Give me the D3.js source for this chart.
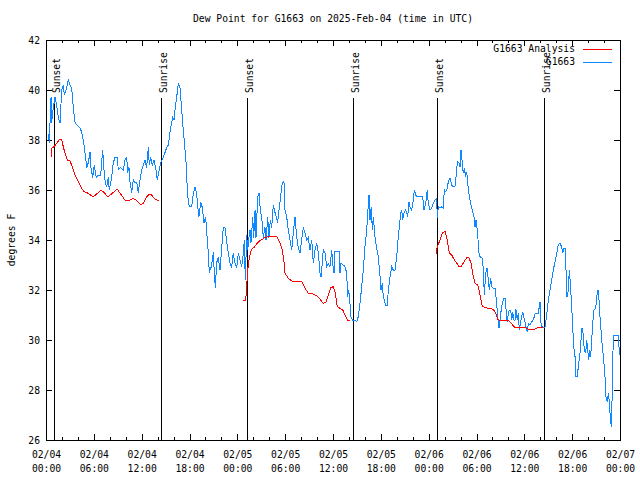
<!DOCTYPE html>
<html>
<head>
<meta charset="utf-8">
<script src="https://cdn.jsdelivr.net/npm/d3@7"></script>
<style>
  html, body { margin: 0; padding: 0; background: #fff; }
  svg { display: block; }
  text { font-family: "DejaVu Sans Mono", "Liberation Mono", monospace; font-size: 9.7px; fill: #000; }
</style>
</head>
<body>
<svg id="chart" width="640" height="480"></svg>
<script>
// ---- DATA ----
const titleText = "Dew Point for G1663 on 2025-Feb-04 (time in UTC)";
const yLabelText = "degrees F";
const seriesNames = ["G1663 Analysis", "G1663"];
const yTicks = [26, 28, 30, 32, 34, 36, 38, 40, 42];
// hours since 2025-02-04 00:00 UTC
const obsHours = [0.29,0.41,0.63,0.71,0.92,1.13,1.34,1.54,1.76,1.97,2.17,2.30,2.60,2.80,3.01,3.22,3.42,3.64,3.85,4.26,4.48,4.68,4.89,5.11,5.31,5.52,5.64,5.86,6.06,6.23,6.36,6.56,6.86,7.11,7.28,7.44,7.61,7.81,7.94,8.24,8.44,8.66,8.94,9.07,9.37,9.70,9.91,10.12,10.25,10.41,10.54,10.75,10.95,11.16,11.38,11.58,11.79,12.00,12.20,12.42,12.63,12.83,12.96,13.13,13.33,13.55,13.80,13.96,14.14,14.39,14.71,14.93,15.14,15.34,15.47,15.64,15.89,16.06,16.22,16.39,16.60,16.81,17.02,17.22,17.44,17.65,17.72,17.98,18.28,18.48,18.69,18.90,19.03,19.19,19.40,19.61,19.82,20.03,20.16,20.36,20.48,20.70,20.86,20.99,21.11,21.24,21.41,21.61,21.83,22.04,22.24,22.45,22.67,22.87,23.08,23.29,23.49,23.71,23.92,24.12,24.33,24.55,24.75,24.87,25.00,25.17,25.30,25.46,25.59,25.71,25.93,26.05,26.22,26.34,26.55,26.72,26.88,27.06,27.26,27.47,27.60,27.81,27.97,28.14,28.31,28.51,28.64,28.81,29.06,29.26,29.48,29.64,29.85,29.98,30.19,30.39,30.61,30.82,31.02,31.23,31.45,31.65,31.86,32.07,32.28,32.49,32.70,32.90,33.12,33.33,33.53,33.74,33.96,34.16,34.37,34.50,34.66,34.78,35.00,35.21,35.41,35.62,35.84,35.96,36.13,36.25,36.54,36.79,36.88,37.00,37.29,37.51,37.72,37.84,37.97,38.13,38.26,38.47,38.76,38.97,39.17,39.39,39.60,39.80,40.01,40.23,40.35,40.52,40.64,40.80,40.93,41.06,41.27,41.48,41.68,41.90,42.02,42.18,42.31,42.43,42.61,42.81,42.94,43.15,43.36,43.56,43.78,43.99,44.12,44.28,44.49,44.62,44.74,44.91,45.12,45.25,45.37,45.53,45.66,45.87,46.07,46.20,46.37,46.57,46.91,47.25,47.42,47.63,47.83,47.95,48.17,48.38,48.58,48.80,49.01,49.08,49.21,49.42,49.64,49.84,49.96,50.14,50.34,50.46,50.68,50.89,51.09,51.30,51.43,51.52,51.64,51.81,51.93,52.06,52.18,52.34,52.47,52.65,52.77,52.90,53.10,53.27,53.47,53.69,53.81,53.94,54.10,54.32,54.44,54.73,54.86,54.98,55.16,55.32,55.48,55.61,55.78,55.91,56.11,56.32,56.53,56.66,56.82,56.95,57.07,57.24,57.45,57.61,57.74,57.86,57.99,58.11,58.29,58.42,58.54,58.71,58.83,58.95,59.12,59.24,59.37,59.54,59.67,59.79,59.92,60.08,60.21,60.37,60.50,60.71,60.92,61.12,61.34,61.55,61.75,61.97,62.09,62.22,62.38,62.59,62.72,62.88,63.01,63.22,63.43,63.63,63.85,64.06,64.26,64.47,64.68,64.81,64.98,65.10,65.23,65.35,65.52,65.64,65.77,65.94,66.07,66.19,66.36,66.48,66.64,66.77,66.98,67.11,67.23,67.40,67.52,67.70,67.82,67.95,68.07,68.20,68.32,68.45,68.58,68.74,68.95,69.12,69.24,69.37,69.49,69.62,69.78,69.96,70.12,70.24,70.41,70.53,70.66,70.78,70.91,71.00,71.09,71.21,71.59,71.79,71.87,72.00];
const obsValues = [38.23,37.9,39.7,38.7,39.3,39.7,39.4,38.9,38.7,40.0,40.2,39.8,40.1,40.4,40.2,40.07,39.3,38.7,38.6,38.5,38.3,38.0,37.5,36.9,37.1,37.5,36.9,36.5,37.0,36.6,36.5,36.6,36.6,37.6,36.8,36.3,36.13,36.5,36.0,36.5,37.1,37.3,37.3,36.8,36.9,36.8,37.2,37.3,36.7,36.9,36.3,35.9,36.4,36.3,36.3,35.9,36.4,36.8,37.0,37.2,36.9,37.7,37.0,37.3,37.0,37.2,36.8,36.4,36.7,37.1,37.3,37.5,37.7,37.8,38.1,38.5,38.9,38.8,39.3,39.7,40.27,40.07,39.2,38.4,37.6,36.8,35.87,35.33,35.35,35.87,36.1,35.87,35.33,34.93,35.5,35.3,34.7,34.9,34.3,33.5,32.7,32.9,33.2,33.5,32.7,32.07,33.1,33.3,32.8,33.7,34.5,34.5,33.9,33.5,33.07,32.9,33.47,33.07,32.9,33.47,33.2,32.93,33.47,34.0,32.4,34.2,33.6,34.1,34.4,33.87,34.9,34.1,35.2,34.1,35.7,35.87,35.2,34.9,34.1,34.5,34.0,34.9,34.1,34.8,34.5,35.4,35.2,35.0,34.7,35.27,35.87,36.27,36.33,35.2,34.93,34.4,34.0,33.6,34.27,34.93,34.1,33.67,33.47,34.0,34.5,34.27,34.0,34.1,33.6,34.0,33.07,33.6,33.87,33.47,32.67,32.53,33.07,33.6,33.47,32.93,33.07,32.93,33.6,33.07,32.67,33.53,33.53,33.53,32.67,33.07,33.0,32.93,32.67,31.73,32.0,31.47,30.93,30.8,30.8,30.73,30.93,31.47,32.13,32.8,33.73,34.4,35.07,35.8,34.8,35.33,34.4,34.93,34.13,33.67,33.33,32.53,32.0,32.27,31.73,31.6,31.4,31.4,32.0,32.53,32.93,32.8,32.8,33.33,33.87,34.4,35.07,35.2,34.8,35.07,35.2,35.07,34.93,35.53,35.33,35.2,35.6,36.0,35.8,35.73,35.73,35.73,35.2,35.47,36.0,35.47,35.2,35.27,35.47,35.6,35.67,34.87,35.33,35.27,35.33,35.27,36.0,35.93,36.07,36.33,36.47,36.2,36.13,36.13,36.53,36.87,37.13,37.07,36.93,37.6,37.2,36.67,36.87,36.53,36.73,36.27,35.73,35.47,35.2,34.93,34.53,34.8,34.4,33.47,33.33,33.27,32.8,31.8,32.67,32.87,32.4,32.0,32.47,32.13,32.07,32.07,31.47,30.93,30.47,30.8,31.13,31.47,31.67,31.67,31.07,30.73,31.07,31.2,31.2,30.8,31.13,30.8,30.8,31.23,30.8,31.07,30.4,30.73,30.93,31.13,30.93,30.73,30.53,30.33,30.67,30.6,30.73,30.8,31.04,31.07,31.07,31.53,30.67,30.53,30.5,30.5,30.8,31.2,31.6,32.0,32.4,32.8,33.13,33.47,33.8,33.87,33.73,33.47,33.67,33.67,32.8,31.73,32.0,32.8,32.27,31.33,30.53,29.73,29.33,28.53,28.53,28.93,29.47,30.0,30.47,30.2,29.6,29.47,30.0,29.6,29.2,29.6,29.33,30.0,30.67,31.2,31.27,31.8,32.0,31.6,30.93,30.4,29.73,29.2,28.53,27.73,27.53,27.87,27.53,26.93,26.53,27.6,29.33,30.2,30.2,30.2,29.73,29.4];
// analysis series; null marks gaps between runs
const anaHours = [0.63,0.71,1.00,1.34,1.76,1.97,2.17,2.38,2.67,3.01,3.35,3.64,3.85,4.18,4.48,4.77,5.11,5.43,5.93,6.36,6.90,7.19,7.74,8.24,8.94,9.28,9.91,10.54,10.95,11.38,11.92,12.20,12.63,12.96,13.26,13.67,14.09,14.17,
  19.0,
  24.75,25.05,25.17,25.30,25.46,25.68,25.80,26.09,26.34,26.55,26.84,27.13,27.47,27.88,28.31,28.94,29.35,29.64,29.85,29.98,30.39,30.82,31.45,32.07,32.49,32.90,33.53,33.96,34.37,34.78,35.08,35.41,35.75,36.04,36.25,36.54,36.88,37.22,37.51,37.80,38.13,
  43.0,
  48.92,49.08,49.42,49.71,50.05,50.34,50.59,50.89,51.18,51.52,51.84,52.14,52.43,52.77,53.06,53.31,53.52,53.81,54.15,54.32,54.53,54.73,54.98,55.48,56.11,56.41,56.66,56.95,57.36,57.86,58.20,58.54,58.83,59.46,60.08,60.50,61.00,61.34,61.75,62.38];
const anaValues = [37.33,37.67,37.73,37.87,38.04,38.0,37.73,37.47,37.2,37.17,36.87,36.6,36.47,36.27,36.07,35.93,35.9,35.83,35.73,35.84,36.0,35.93,35.73,35.85,36.03,35.87,35.6,35.6,35.67,35.57,35.4,35.47,35.73,35.84,35.8,35.63,35.57,35.57,
  null,
  31.6,31.6,32.13,32.8,33.2,33.53,33.63,33.7,33.8,33.89,33.97,34.03,34.1,34.13,34.16,34.13,33.87,33.6,33.13,32.67,32.47,32.36,32.36,32.36,32.07,31.87,31.84,31.76,31.63,31.47,31.49,31.8,32.1,32.13,31.93,31.33,31.27,31.2,31.0,30.8,30.8,
  null,
  33.44,33.73,34.0,34.27,34.36,34.0,33.47,33.4,33.23,33.07,32.93,32.96,33.13,33.29,33.29,33.07,32.67,32.27,32.2,32.0,31.67,31.36,31.31,31.27,31.23,31.07,30.83,30.76,30.77,30.8,30.73,30.6,30.49,30.49,30.5,30.43,30.4,30.44,30.51,30.51];
const sunHours = [1.04, 14.43, 25.17, 38.55, 49.08, 62.51];
const sunLabels = ["Sunset", "Sunrise", "Sunset", "Sunrise", "Sunset", "Sunrise"];

// ---- CHART ----
const base = Date.UTC(2025, 1, 4, 0, 0, 0);
const toDate = h => new Date(base + h * 3600e3);
const L = 46, R = 620, T = 40, B = 440;
const svg = d3.select("#chart");

const x = d3.scaleUtc().domain([toDate(0), toDate(72)]).range([L, R]);
const y = d3.scaleLinear().domain([26, 42]).range([B, T]);

const majorTicks = d3.range(0, 73, 6).map(toDate);
const minorTicks = d3.range(0, 73, 2).filter(h => h % 6 !== 0).map(toDate);

// minor ticks (bottom & top)
svg.append("g").attr("transform", `translate(0,${B})`)
  .call(d3.axisBottom(x).tickValues(minorTicks).tickSize(-3).tickFormat(""))
  .call(g => g.select(".domain").remove());
svg.append("g").attr("transform", `translate(0,${T})`)
  .call(d3.axisTop(x).tickValues(minorTicks).tickSize(-3).tickFormat(""))
  .call(g => g.select(".domain").remove());

// major x ticks bottom with two-line labels
const fmtD = d3.utcFormat("%m/%d"), fmtT = d3.utcFormat("%H:%M");
const xb = svg.append("g").attr("transform", `translate(0,${B})`)
  .call(d3.axisBottom(x).tickValues(majorTicks).tickSize(-6).tickPadding(0).tickFormat(""))
  .call(g => g.select(".domain").remove());
xb.selectAll(".tick").each(function(d) {
  const t = d3.select(this).append("text").attr("fill", "#000").attr("text-anchor", "middle");
  t.append("tspan").attr("x", 0).attr("y", 18).text(fmtD(d));
  t.append("tspan").attr("x", 0).attr("y", 32).text(fmtT(d));
});
svg.append("g").attr("transform", `translate(0,${T})`)
  .call(d3.axisTop(x).tickValues(majorTicks).tickSize(-6).tickFormat(""))
  .call(g => g.select(".domain").remove());

// y ticks left with labels, right mirrored
svg.append("g").attr("transform", `translate(${L},0)`)
  .call(d3.axisLeft(y).tickValues(yTicks).tickSize(-6).tickPadding(6).tickFormat(d3.format("d")))
  .call(g => g.select(".domain").remove())
  .call(g => g.selectAll("text").attr("fill", "#000").attr("dy", "0.35em"));
svg.append("g").attr("transform", `translate(${R},0)`)
  .call(d3.axisRight(y).tickValues(yTicks).tickSize(-6).tickFormat(""))
  .call(g => g.select(".domain").remove());

svg.selectAll(".tick line").attr("stroke", "#000").attr("shape-rendering", "crispEdges");
svg.selectAll(".tick text").style("font-family", '"DejaVu Sans Mono", monospace').style("font-size", "9.7px");

// frame
svg.append("rect").attr("x", L + 0.5).attr("y", T + 0.5).attr("width", R - L).attr("height", B - T)
  .attr("fill", "none").attr("stroke", "#000").attr("stroke-width", 1).attr("shape-rendering", "crispEdges");

// sunrise / sunset markers
const sun = svg.append("g");
sunHours.forEach((h, i) => {
  const sx = Math.round(x(toDate(h))) + 0.5;
  sun.append("line").attr("x1", sx).attr("x2", sx).attr("y1", 98).attr("y2", B)
    .attr("stroke", "#000").attr("stroke-width", 1).attr("shape-rendering", "crispEdges");
  sun.append("text").attr("transform", `translate(${sx + 5},93) rotate(-90)`)
    .attr("text-anchor", "start").text(sunLabels[i]);
});

// lines
const obs = obsHours.map((h, i) => ({ t: toDate(h), v: obsValues[i] }));
const ana = anaHours.map((h, i) => ({ t: toDate(h), v: anaValues[i] }));
const line = d3.line().defined(d => d.v !== null).x(d => x(d.t)).y(d => y(d.v));

svg.append("path").datum(obs).attr("d", line)
  .attr("fill", "none").attr("stroke", "#0f87ff").attr("stroke-width", 1)
  .attr("shape-rendering", "crispEdges");
svg.append("path").datum(ana).attr("d", line)
  .attr("fill", "none").attr("stroke", "#ff0000").attr("stroke-width", 1)
  .attr("shape-rendering", "crispEdges");

// legend
const colors = ["#ff0000", "#0f87ff"];
seriesNames.forEach((name, i) => {
  const ly = 49 + i * 13;
  svg.append("text").attr("x", 575).attr("y", ly).attr("dy", "0.35em")
    .attr("text-anchor", "end").text(name);
  svg.append("line").attr("x1", 583).attr("x2", 612).attr("y1", ly + 0.5).attr("y2", ly + 0.5)
    .attr("stroke", colors[i]).attr("stroke-width", 1).attr("shape-rendering", "crispEdges");
});

// title and y label
svg.append("text").attr("x", 333).attr("y", 19).attr("dy", "0.35em")
  .attr("text-anchor", "middle").text(titleText);
svg.append("text").attr("transform", "translate(12,240) rotate(-90)")
  .attr("dy", "0.35em").attr("text-anchor", "middle").text(yLabelText);
</script>
</body>
</html>
